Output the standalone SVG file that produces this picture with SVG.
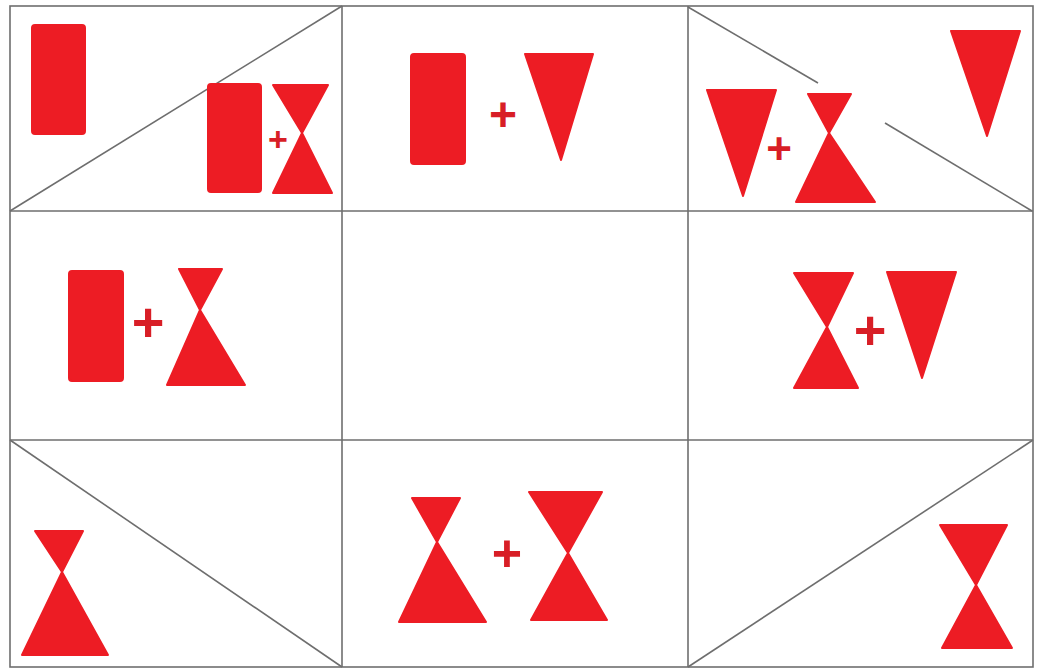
<svg xmlns="http://www.w3.org/2000/svg" width="1041" height="670" viewBox="0 0 1041 670">
<style>
.g{stroke:#6e6e6e;stroke-width:1.6;fill:none}
.r{fill:#ed1c24;stroke:#ed1c24;stroke-width:2;stroke-linejoin:round}
.p{fill:#d81e26;font-family:"Liberation Sans",Arial,sans-serif;font-weight:bold;text-anchor:middle;dominant-baseline:central}
</style>
<rect width="1041" height="670" fill="#fff"/>
<g id="grid">
<rect class="g" x="10" y="6" width="1023" height="661"/>
<line class="g" x1="342" y1="6" x2="342" y2="667"/>
<line class="g" x1="688" y1="6" x2="688" y2="667"/>
<line class="g" x1="10" y1="211" x2="1033" y2="211"/>
<line class="g" x1="10" y1="440" x2="1033" y2="440"/>
<line class="g" x1="10" y1="211" x2="342" y2="6"/>
<line class="g" x1="688" y1="7" x2="818" y2="83"/>
<line class="g" x1="885" y1="123" x2="1032" y2="211"/>
<line class="g" x1="10" y1="440" x2="342" y2="667"/>
<line class="g" x1="688" y1="667" x2="1033" y2="440"/>
</g>
<g id="cell1">
<rect class="r" x="32" y="25" width="53" height="109" rx="3"/>
<rect class="r" x="208" y="84" width="53" height="108" rx="3"/>
<polygon class="r" points="273,85 328,85 302,133 332,193 273,193 302,133"/>
<text class="p" x="278" y="139" font-size="34">+</text>
</g>
<g id="cell2">
<rect class="r" x="411" y="54" width="54" height="110" rx="3"/>
<text class="p" x="503" y="114" font-size="48">+</text>
<polygon class="r" points="525,54 593,54 561,160"/>
</g>
<g id="cell3">
<polygon class="r" points="951,31 1020,31 987,136"/>
<polygon class="r" points="707,90 776,90 743,196"/>
<text class="p" x="779" y="148" font-size="44">+</text>
<polygon class="r" points="808,94 851,94 829,133 875,202 796,202 829,133"/>
</g>
<g id="cell4">
<rect class="r" x="69" y="271" width="54" height="110" rx="3"/>
<text class="p" x="148" y="321" font-size="56">+</text>
<polygon class="r" points="179,269 222,269 200,310 245,385 167,385 200,310"/>
</g>
<g id="cell6">
<polygon class="r" points="794,273 853,273 827,327 858,388 794,388 827,327"/>
<text class="p" x="870" y="329" font-size="56">+</text>
<polygon class="r" points="887,272 956,272 922,378"/>
</g>
<g id="cell7">
<polygon class="r" points="35,531 83,531 62,572 108,655 22,655 62,572"/>
</g>
<g id="cell8">
<polygon class="r" points="412,498 460,498 437,542 486,622 399,622 437,542"/>
<text class="p" x="507" y="553" font-size="52">+</text>
<polygon class="r" points="529,492 602,492 568,553 607,620 531,620 568,553"/>
</g>
<g id="cell9">
<polygon class="r" points="940,525 1007,525 976,585 1012,648 942,648 976,585"/>
</g>
</svg>
